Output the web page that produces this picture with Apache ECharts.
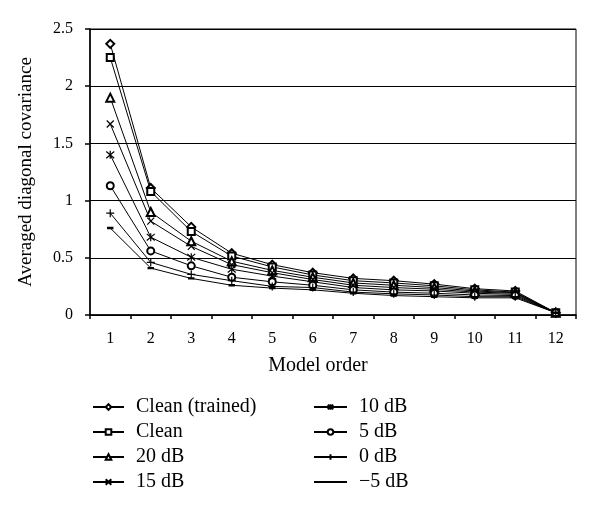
<!DOCTYPE html>
<html>
<head>
<meta charset="utf-8">
<script src="https://cdn.jsdelivr.net/npm/echarts@6/dist/echarts.min.js"></script>
<style>html,body{margin:0;padding:0;background:#fff;}#c{width:600px;height:508px;}</style>
</head>
<body>
<div id="c"></div>
<script>
const categories = ['1','2','3','4','5','6','7','8','9','10','11','12'];
const seriesNames = ['Clean (trained)','Clean','20 dB','15 dB','10 dB','5 dB','0 dB','\u22125 dB'];
const cleanTrained = [2.37,1.11,0.77,0.54,0.44,0.37,0.32,0.30,0.27,0.23,0.21,0.02];
const clean        = [2.25,1.08,0.73,0.515,0.42,0.35,0.30,0.28,0.255,0.22,0.20,0.02];
const db20         = [1.90,0.90,0.645,0.47,0.39,0.33,0.28,0.26,0.24,0.21,0.195,0.02];
const db15         = [1.67,0.82,0.60,0.44,0.37,0.31,0.26,0.24,0.225,0.20,0.19,0.02];
const db10         = [1.40,0.68,0.505,0.40,0.34,0.29,0.24,0.22,0.21,0.19,0.18,0.02];
const db5          = [1.13,0.56,0.43,0.33,0.29,0.26,0.22,0.20,0.19,0.175,0.17,0.02];
const db0          = [0.89,0.46,0.355,0.30,0.25,0.24,0.20,0.185,0.175,0.16,0.16,0.02];
const dbm5         = [0.76,0.41,0.32,0.26,0.235,0.22,0.19,0.17,0.16,0.15,0.15,0.02];
const yTicks = [0,0.5,1,1.5,2,2.5];

const seriesData = [cleanTrained, clean, db20, db15, db10, db5, db0, dbm5];
const symbols = [
  'emptyDiamond',
  'emptyRect',
  'emptyTriangle',
  'path://M0 0 L10 10 M10 0 L0 10',
  'path://M0 0 L10 10 M10 0 L0 10 M5 -1 L5 11',
  'emptyCircle',
  'path://M5 0 L5 10 M0 5 L10 5',
  'path://M1 3.5 L9 3.5 L9 6.5 L1 6.5 Z M0 0 L0.01 0 Z M10 10 L9.99 10 Z'
];
const sizes = [8,7,8,7,8,7,8,8];
const borders = [1,1,1,1.2,1.2,1,1.2,0];

const series = seriesNames.map((n,i)=>({
  name: n,
  type: 'line',
  data: seriesData[i],
  symbol: symbols[i],
  symbolSize: sizes[i],
  showAllSymbol: true,
  lineStyle: {color:'#000', width:1},
  itemStyle: {color:'#000', borderColor:'#000', borderWidth:borders[i]},
  emphasis: {disabled:true},
  animation: false
}));

const font = 'Liberation Serif';
const legendText = {fontFamily:font, fontSize:20, color:'#000', lineHeight:20, padding:[0,0,0,7]};
const chart = echarts.init(document.getElementById('c'), null, {renderer:'canvas'});
chart.setOption({
  backgroundColor: '#fff',
  animation: false,
  grid: {left:90, right:24, top:29, bottom:193, show:true, borderColor:'#000', borderWidth:1},
  xAxis: {
    type:'category', data: categories, boundaryGap:true,
    name:'Model order', nameLocation:'middle', nameGap:41,
    nameTextStyle:{fontFamily:font, fontSize:20, color:'#000', padding:[0,30,0,0]},
    axisLine:{lineStyle:{color:'#000', width:1.5}},
    axisTick:{show:true, length:4, lineStyle:{color:'#000', width:1.5}},
    axisLabel:{fontFamily:font, fontSize:16, color:'#000', margin:16}
  },
  yAxis: {
    type:'value', min:yTicks[0], max:yTicks[yTicks.length-1], interval:0.5,
    name:'Averaged diagonal covariance', nameLocation:'middle', nameGap:54,
    nameTextStyle:{fontFamily:font, fontSize:19, color:'#000'},
    axisLine:{show:true, lineStyle:{color:'#000', width:1.5}},
    axisTick:{show:true, length:5, lineStyle:{color:'#000', width:1.5}},
    axisLabel:{fontFamily:font, fontSize:16, color:'#000', margin:17},
    splitLine:{show:true, lineStyle:{color:'#000', width:1}}
  },
  legend: [
    {data: seriesNames.slice(0,4), orient:'vertical', left:87, top:392, itemWidth:31, itemHeight:7, itemGap:5,
     textStyle:legendText, selectedMode:false},
    {data: seriesNames.slice(4), orient:'vertical', left:308, top:392, itemWidth:33, itemHeight:7, itemGap:5,
     textStyle:legendText, selectedMode:false}
  ],
  series: series
});
</script>
</body>
</html>
